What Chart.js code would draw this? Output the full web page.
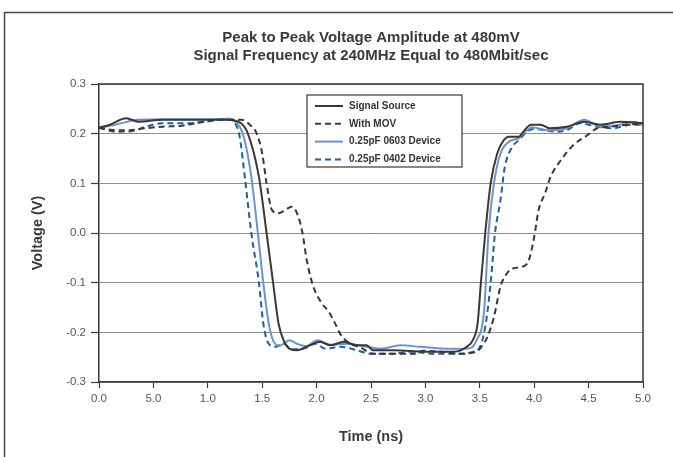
<!DOCTYPE html>
<html>
<head>
<meta charset="utf-8">
<script src="https://cdn.jsdelivr.net/npm/chart.js@4.4.0/dist/chart.umd.min.js"></script>
<style>
html,body{margin:0;padding:0;background:#fff;}
#wrap{width:673px;height:457px;position:relative;}
</style>
</head>
<body>
<div id="wrap"><canvas id="c" width="673" height="457"></canvas></div>
<script>
// ---- data ----
const titleLines = ['Peak to Peak Voltage Amplitude at 480mV', 'Signal Frequency at 240MHz Equal to 480Mbit/sec'];
const xTitle = 'Time (ns)';
const yTitle = 'Voltage (V)';
const xTickLabels = ['0.0','5.0','1.0','1.5','2.0','2.5','3.0','3.5','4.0','4.5','5.0'];
const yTickLabels = ['-0.3','-0.2','-0.1','0.0','0.1','0.2','0.3'];
const seriesNames = ['Signal Source','With MOV','0.25pF 0603 Device','0.25pF 0402 Device'];

const srcT = [0.00,0.10,0.25,0.36,0.58,0.90,1.15,1.25,1.30,1.36,1.47,1.54,1.60,1.65,1.70,1.76,1.82,1.91,2.03,2.13,2.25,2.37,2.46,2.52,2.71,3.01,3.26,3.38,3.44,3.48,3.51,3.55,3.60,3.66,3.72,3.77,3.86,3.90,3.97,4.06,4.14,4.30,4.46,4.61,4.79,5.00];
const srcV = [0.212,0.218,0.231,0.224,0.228,0.228,0.228,0.226,0.222,0.205,0.113,0.000,-0.100,-0.182,-0.218,-0.234,-0.236,-0.229,-0.219,-0.226,-0.219,-0.226,-0.226,-0.236,-0.236,-0.239,-0.239,-0.229,-0.214,-0.182,-0.100,0.000,0.100,0.160,0.187,0.194,0.194,0.204,0.218,0.218,0.211,0.214,0.224,0.218,0.224,0.221];

const movT = [0.00,0.15,0.27,0.43,0.58,0.76,0.94,1.13,1.31,1.40,1.45,1.50,1.54,1.59,1.65,1.71,1.77,1.82,1.87,1.91,1.97,2.05,2.11,2.17,2.22,2.31,2.40,2.52,2.71,2.89,2.98,3.14,3.32,3.47,3.52,3.57,3.63,3.69,3.75,3.81,3.89,3.95,4.00,4.04,4.10,4.15,4.24,4.36,4.49,4.58,4.70,4.85,5.00];
const movV = [0.212,0.207,0.207,0.211,0.214,0.216,0.223,0.228,0.228,0.215,0.200,0.160,0.100,0.046,0.040,0.046,0.053,0.040,0.000,-0.055,-0.108,-0.142,-0.158,-0.182,-0.204,-0.223,-0.230,-0.243,-0.243,-0.243,-0.237,-0.239,-0.243,-0.239,-0.228,-0.209,-0.169,-0.108,-0.081,-0.071,-0.068,-0.055,-0.008,0.046,0.080,0.113,0.145,0.177,0.197,0.211,0.214,0.218,0.220];

const d0603T = [0.00,0.15,0.36,0.70,1.00,1.19,1.25,1.33,1.40,1.46,1.51,1.56,1.60,1.66,1.75,1.82,1.90,2.01,2.12,2.28,2.46,2.59,2.77,2.95,3.20,3.38,3.47,3.54,3.58,3.63,3.69,3.77,3.86,3.92,3.98,4.12,4.30,4.46,4.61,4.79,4.92,5.00];
const d0603V = [0.212,0.218,0.228,0.229,0.229,0.230,0.226,0.194,0.113,0.000,-0.100,-0.182,-0.216,-0.227,-0.216,-0.223,-0.228,-0.216,-0.225,-0.223,-0.229,-0.233,-0.226,-0.229,-0.233,-0.233,-0.216,-0.155,0.000,0.100,0.160,0.184,0.191,0.204,0.213,0.207,0.211,0.228,0.214,0.218,0.224,0.218];

const d0402T = [0.00,0.15,0.30,0.43,0.58,0.80,0.98,1.19,1.24,1.29,1.34,1.40,1.47,1.51,1.56,1.62,1.70,1.77,1.88,1.99,2.08,2.22,2.37,2.49,2.71,2.86,3.08,3.32,3.44,3.50,3.55,3.60,3.64,3.69,3.73,3.80,3.86,3.92,4.00,4.09,4.21,4.30,4.42,4.58,4.73,4.89,5.00];
const d0402V = [0.212,0.204,0.205,0.214,0.221,0.221,0.224,0.230,0.224,0.197,0.113,0.000,-0.100,-0.182,-0.223,-0.229,-0.223,-0.234,-0.233,-0.223,-0.233,-0.229,-0.236,-0.243,-0.243,-0.239,-0.243,-0.243,-0.239,-0.230,-0.189,-0.100,0.000,0.066,0.133,0.174,0.187,0.201,0.210,0.207,0.204,0.207,0.221,0.214,0.211,0.218,0.218];

// ---- build ----
const pts = (T, V) => T.map((t, i) => ({x: t, y: V[i]}));
const DARK = '#3b3734';
const BLUE1 = '#6b93cf';
const BLUE2 = '#1d5fa2';
const FONT = "'Liberation Sans', Arial, Helvetica, sans-serif";

const baseDs = {pointRadius: 0, borderWidth: 2, fill: false, cubicInterpolationMode: 'monotone'};
const datasets = [
  Object.assign({}, baseDs, {label: seriesNames[0], data: pts(srcT, srcV), borderColor: DARK}),
  Object.assign({}, baseDs, {label: seriesNames[1], data: pts(movT, movV), borderColor: DARK, borderDash: [6, 4]}),
  Object.assign({}, baseDs, {label: seriesNames[2], data: pts(d0603T, d0603V), borderColor: BLUE1}),
  Object.assign({}, baseDs, {label: seriesNames[3], data: pts(d0402T, d0402V), borderColor: BLUE2, borderDash: [6, 4]})
];

const framePlugin = {
  id: 'frame',
  beforeDraw(chart) {
    const ctx = chart.ctx;
    ctx.save();
    ctx.strokeStyle = '#4a4644';
    ctx.lineWidth = 1.5;
    ctx.beginPath();
    ctx.moveTo(chart.width, 12.5);
    ctx.lineTo(4.5, 12.5);
    ctx.lineTo(4.5, chart.height);
    ctx.stroke();
    ctx.restore();
  },
  afterDraw(chart) {
    const a = chart.chartArea, ctx = chart.ctx;
    ctx.save();
    ctx.strokeStyle = DARK;
    ctx.lineWidth = 1.5;
    ctx.beginPath();
    ctx.moveTo(a.left, a.top);
    ctx.lineTo(a.right, a.top);
    ctx.lineTo(a.right, a.bottom);
    ctx.stroke();
    // legend box
    const lx = a.left + 208, ly = a.top + 11, lw = 155, lh = 72;
    ctx.fillStyle = '#fff';
    ctx.fillRect(lx, ly, lw, lh);
    ctx.strokeStyle = DARK;
    ctx.lineWidth = 1.2;
    ctx.strokeRect(lx, ly, lw, lh);
    ctx.font = "bold 10px " + FONT;
    ctx.textBaseline = 'middle';
    ctx.textAlign = 'left';
    chart.data.datasets.forEach((ds, i) => {
      const y = ly + 11 + i * 17.8;
      ctx.strokeStyle = ds.borderColor;
      ctx.lineWidth = 2;
      ctx.setLineDash(ds.borderDash || []);
      ctx.beginPath();
      ctx.moveTo(lx + 8, y);
      ctx.lineTo(lx + 36, y);
      ctx.stroke();
      ctx.setLineDash([]);
      ctx.fillStyle = '#333';
      ctx.fillText(ds.label, lx + 42, y);
    });
    ctx.restore();
  }
};

new Chart(document.getElementById('c'), {
  type: 'line',
  data: {datasets},
  plugins: [framePlugin],
  options: {
    responsive: false,
    animation: false,
    devicePixelRatio: 1,
    layout: {padding: {left: 0, right: 30, top: 0, bottom: 0}},
    plugins: {
      legend: {display: false},
      tooltip: {enabled: false},
      title: {
        display: true,
        fullSize: false,
        text: titleLines,
        color: '#3d3935',
        font: {family: FONT, size: 15, weight: 'bold', lineHeight: '18px'},
        padding: {top: 29, bottom: 19}
      }
    },
    scales: {
      x: {
        type: 'linear', min: 0, max: 5,
        afterFit(s) { s.height = 75; },
        ticks: {stepSize: 0.5, color: '#555', font: {family: FONT, size: 11.5}, padding: 4, maxRotation: 0,
          callback: (v, i) => xTickLabels[i]},
        grid: {drawOnChartArea: false, drawTicks: true, tickLength: 6, tickColor: DARK, tickWidth: 1.2},
        border: {display: true, color: DARK, width: 1.5},
        title: {display: true, text: xTitle, color: '#3d3935', font: {family: FONT, size: 14.5, weight: 'bold'}, padding: {top: 0, bottom: 11}}
      },
      y: {
        min: -0.3, max: 0.3,
        afterFit(s) { s.width = 99; },
        ticks: {stepSize: 0.1, color: '#555', font: {family: FONT, size: 11.5}, padding: 5,
          callback: (v, i) => yTickLabels[i]},
        grid: {color: '#8f8f8f', lineWidth: 1, tickLength: 8, tickColor: DARK, tickWidth: 1.2},
        border: {display: true, color: DARK, width: 1.5},
        title: {display: true, text: yTitle, color: '#3d3935', font: {family: FONT, size: 14.5, weight: 'bold'}, padding: {top: 29, bottom: 0}}
      }
    }
  }
});
</script>
</body>
</html>
